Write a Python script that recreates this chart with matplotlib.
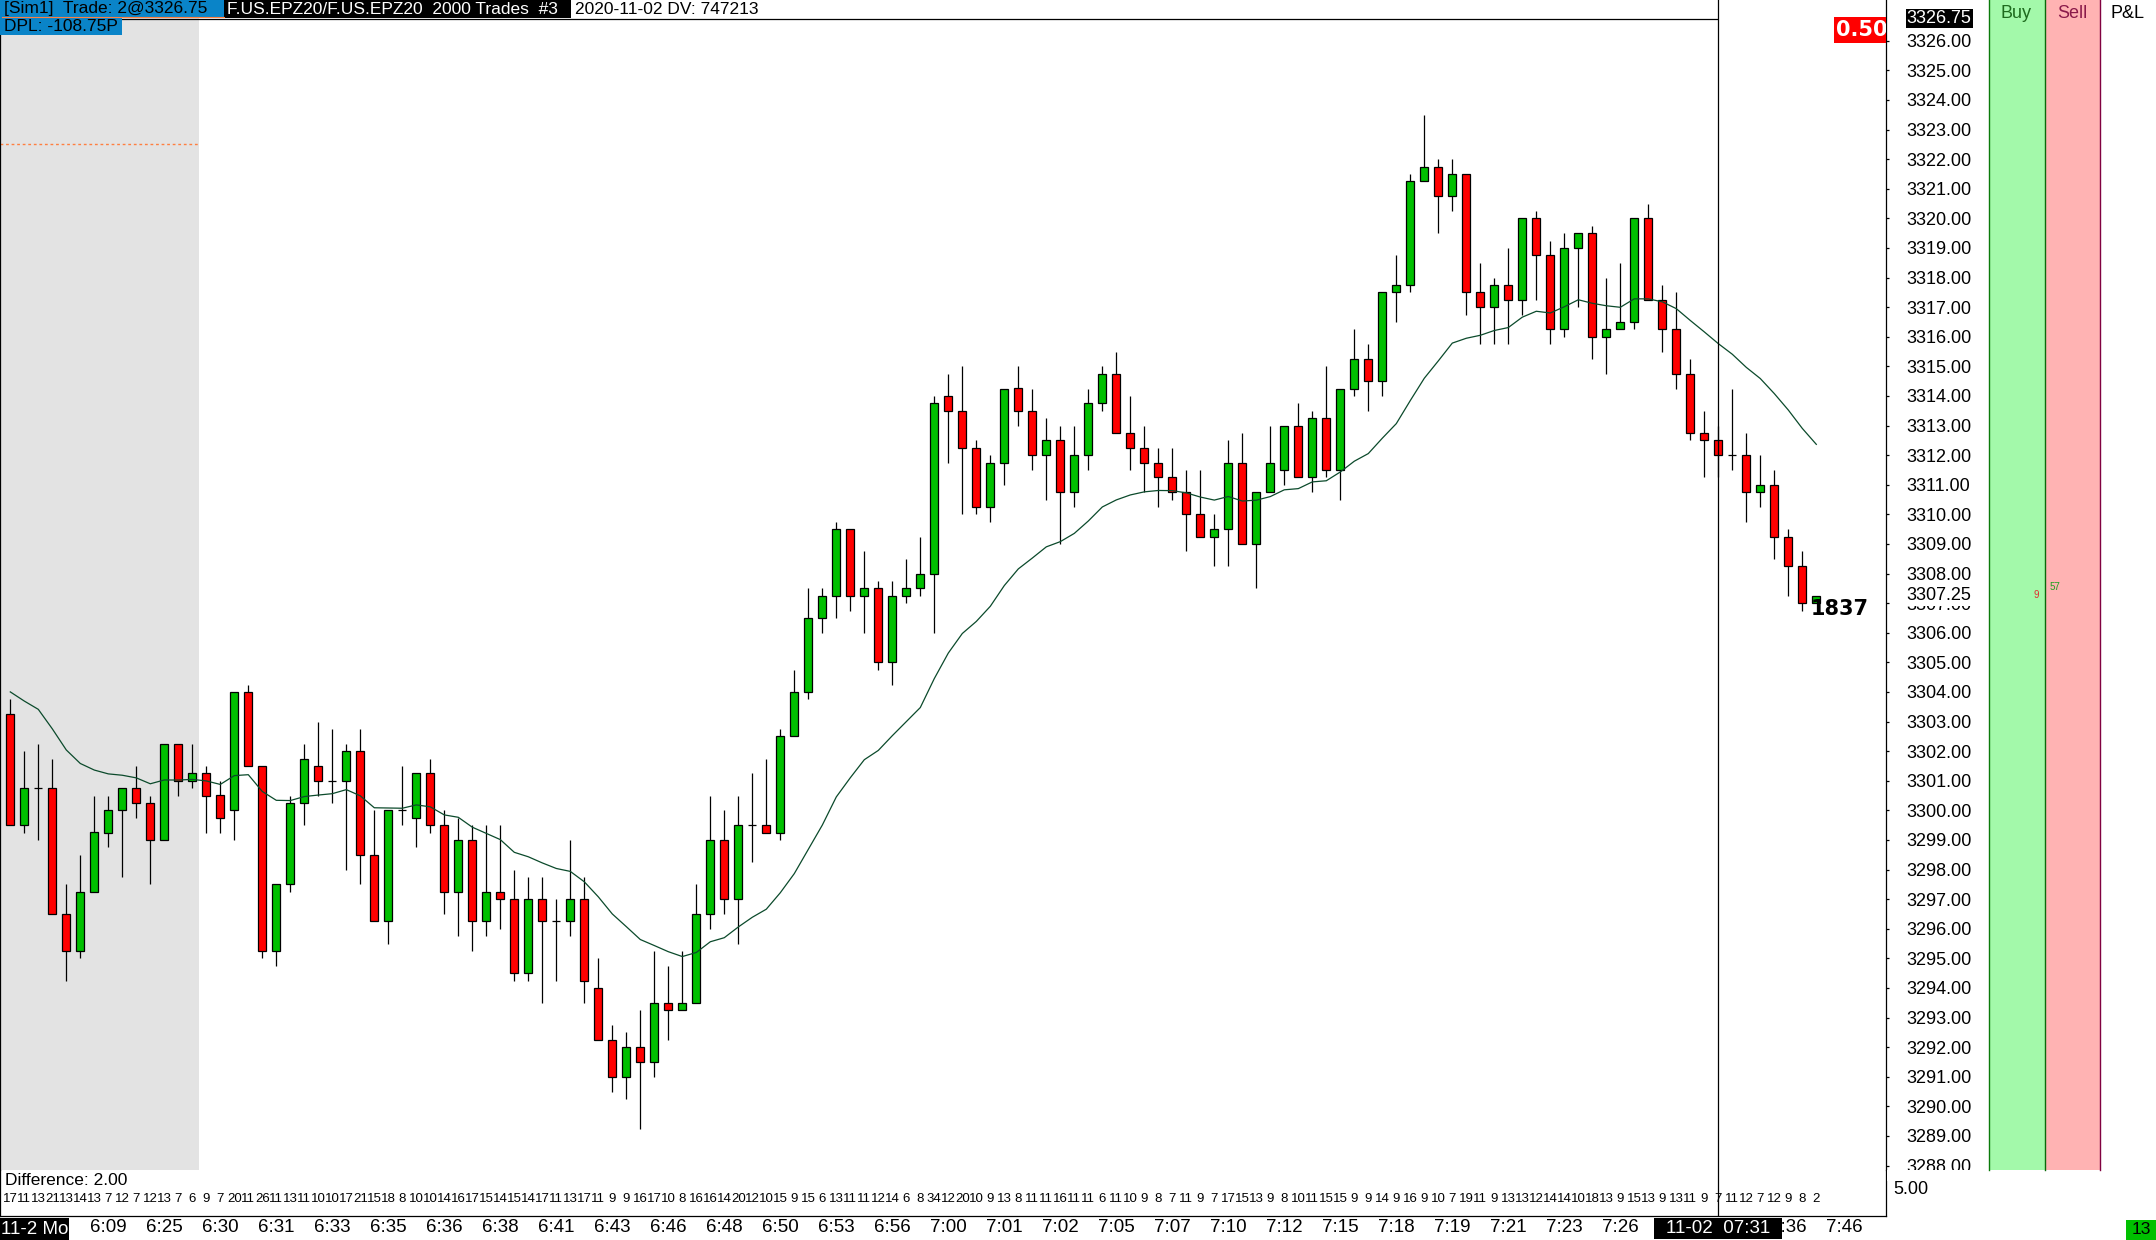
import matplotlib
matplotlib.use('Agg')
import matplotlib.pyplot as plt
from matplotlib.patches import Rectangle
from matplotlib.lines import Line2D
from matplotlib.transforms import blended_transform_factory
import numpy as np

W, H = 2156, 1240

# candle data, one entry per bar
opens = [3303.25, 3299.5, 3300.75, 3300.75, 3296.5, 3295.25, 3297.25, 3299.25, 3300.0, 3300.75,
         3300.25, 3299.0, 3302.25, 3301.0, 3301.25, 3300.5, 3300.0, 3304.0, 3301.5, 3295.25,
         3297.5, 3300.25, 3301.5, 3301.0, 3301.0, 3302.0, 3298.5, 3296.25, 3300.0, 3299.75,
         3301.25, 3299.5, 3297.25, 3299.0, 3296.25, 3297.25, 3297.0, 3294.5, 3297.0, 3296.25,
         3296.25, 3297.0, 3294.0, 3292.25, 3291.0, 3292.0, 3291.5, 3293.5, 3293.25, 3293.5,
         3296.5, 3299.0, 3297.0, 3299.5, 3299.5, 3299.25, 3302.5, 3304.0, 3306.5, 3307.25,
         3309.5, 3307.25, 3307.5, 3305.0, 3307.25, 3307.5, 3308.0, 3314.0, 3313.5, 3312.25,
         3310.25, 3311.75, 3314.25, 3313.5, 3312.0, 3312.5, 3310.75, 3312.0, 3313.75, 3314.75,
         3312.75, 3312.25, 3311.75, 3311.25, 3310.75, 3310.0, 3309.25, 3309.5, 3311.75, 3309.0,
         3310.75, 3311.5, 3313.0, 3311.25, 3313.25, 3311.5, 3314.25, 3315.25, 3314.5, 3317.5,
         3317.75, 3321.25, 3321.75, 3320.75, 3321.5, 3317.5, 3317.0, 3317.75, 3317.25, 3320.0,
         3318.75, 3316.25, 3319.0, 3319.5, 3316.0, 3316.25, 3316.5, 3320.0, 3317.25, 3316.25,
         3314.75, 3312.75, 3312.5, 3312.0, 3312.0, 3310.75, 3311.0, 3309.25, 3308.25, 3307.0]
highs = [3303.75, 3302.0, 3302.25, 3301.75, 3297.5, 3298.5, 3300.5, 3300.5, 3300.75, 3301.5,
         3300.5, 3302.25, 3302.25, 3302.25, 3301.5, 3301.0, 3304.0, 3304.25, 3301.5, 3297.5,
         3300.5, 3302.25, 3303.0, 3302.75, 3302.25, 3302.75, 3300.0, 3300.0, 3301.5, 3301.25,
         3301.75, 3300.0, 3299.75, 3299.5, 3299.5, 3299.5, 3298.0, 3297.75, 3297.75, 3297.0,
         3299.0, 3297.75, 3295.0, 3292.75, 3292.5, 3293.25, 3295.25, 3294.75, 3295.25, 3297.5,
         3300.5, 3300.0, 3300.5, 3301.25, 3301.75, 3302.75, 3304.75, 3307.5, 3307.5, 3309.75,
         3309.5, 3308.75, 3307.75, 3307.75, 3308.5, 3309.25, 3314.0, 3314.75, 3315.0, 3312.5,
         3312.0, 3314.25, 3315.0, 3314.25, 3313.25, 3313.0, 3313.0, 3314.25, 3315.0, 3315.5,
         3314.0, 3313.0, 3312.25, 3312.25, 3311.5, 3311.5, 3310.0, 3312.5, 3312.75, 3310.75,
         3313.0, 3313.0, 3313.75, 3313.5, 3315.0, 3314.25, 3316.25, 3315.75, 3317.5, 3318.75,
         3321.5, 3323.5, 3322.0, 3322.0, 3321.5, 3318.5, 3318.0, 3319.0, 3320.0, 3320.25,
         3319.25, 3319.5, 3319.5, 3319.75, 3318.0, 3318.5, 3320.0, 3320.5, 3317.75, 3317.5,
         3315.25, 3313.5, 3313.0, 3314.25, 3312.75, 3312.0, 3311.5, 3309.5, 3308.75, 3307.25]
lows = [3299.5, 3299.25, 3299.0, 3296.5, 3294.25, 3295.0, 3297.25, 3298.75, 3297.75, 3299.75,
        3297.5, 3299.0, 3300.5, 3300.75, 3299.25, 3299.25, 3299.0, 3301.5, 3295.0, 3294.75,
        3297.25, 3299.5, 3300.5, 3300.25, 3298.0, 3297.5, 3296.25, 3295.5, 3299.5, 3298.75,
        3299.25, 3296.5, 3295.75, 3295.25, 3295.75, 3296.0, 3294.25, 3294.25, 3293.5, 3294.25,
        3295.75, 3293.5, 3292.25, 3290.5, 3290.25, 3289.25, 3291.0, 3292.25, 3293.25, 3293.5,
        3296.0, 3296.5, 3295.5, 3298.25, 3299.25, 3299.0, 3302.5, 3303.75, 3306.0, 3306.5,
        3306.75, 3306.0, 3304.75, 3304.25, 3307.0, 3307.25, 3306.0, 3311.75, 3310.0, 3310.0,
        3309.75, 3311.0, 3313.0, 3311.5, 3310.5, 3309.0, 3310.25, 3311.5, 3313.5, 3312.75,
        3311.5, 3310.75, 3310.25, 3310.5, 3308.75, 3309.25, 3308.25, 3308.25, 3309.0, 3307.5,
        3310.75, 3311.0, 3311.25, 3310.75, 3311.25, 3310.5, 3314.0, 3313.5, 3314.0, 3316.5,
        3317.5, 3321.25, 3319.5, 3320.25, 3316.75, 3315.75, 3315.75, 3315.75, 3316.75, 3317.25,
        3315.75, 3316.0, 3317.0, 3315.25, 3314.75, 3316.25, 3316.25, 3317.25, 3315.5, 3314.25,
        3312.5, 3311.25, 3311.25, 3311.5, 3309.75, 3310.25, 3308.5, 3307.25, 3306.75, 3307.0]
closes = [3299.5, 3300.75, 3300.75, 3296.5, 3295.25, 3297.25, 3299.25, 3300.0, 3300.75, 3300.25,
          3299.0, 3302.25, 3301.0, 3301.25, 3300.5, 3299.75, 3304.0, 3301.5, 3295.25, 3297.5,
          3300.25, 3301.75, 3301.0, 3301.0, 3302.0, 3298.5, 3296.25, 3300.0, 3300.0, 3301.25,
          3299.5, 3297.25, 3299.0, 3296.25, 3297.25, 3297.0, 3294.5, 3297.0, 3296.25, 3296.25,
          3297.0, 3294.25, 3292.25, 3291.0, 3292.0, 3291.5, 3293.5, 3293.25, 3293.5, 3296.5,
          3299.0, 3297.0, 3299.5, 3299.5, 3299.25, 3302.5, 3304.0, 3306.5, 3307.25, 3309.5,
          3307.25, 3307.5, 3305.0, 3307.25, 3307.5, 3308.0, 3313.75, 3313.5, 3312.25, 3310.25,
          3311.75, 3314.25, 3313.5, 3312.0, 3312.5, 3310.75, 3312.0, 3313.75, 3314.75, 3312.75,
          3312.25, 3311.75, 3311.25, 3310.75, 3310.0, 3309.25, 3309.5, 3311.75, 3309.0, 3310.75,
          3311.75, 3313.0, 3311.25, 3313.25, 3311.5, 3314.25, 3315.25, 3314.5, 3317.5, 3317.75,
          3321.25, 3321.75, 3320.75, 3321.5, 3317.5, 3317.0, 3317.75, 3317.25, 3320.0, 3318.75,
          3316.25, 3319.0, 3319.5, 3316.0, 3316.25, 3316.5, 3320.0, 3317.25, 3316.25, 3314.75,
          3312.75, 3312.5, 3312.0, 3312.0, 3310.75, 3311.0, 3309.25, 3308.25, 3307.0, 3307.25]

# ticks per bar shown under the candles
counts = [17, 11, 13, 21, 13, 14, 13, 7, 12, 7, 12, 13, 7, 6, 9, 7,
          20, 11, 26, 11, 13, 11, 10, 10, 17, 21, 15, 18, 8, 10, 10, 14, 16, 17, 15, 14,
          15, 14, 17, 11, 13, 17, 11, 9, 9, 16, 17, 10, 8, 16, 16, 14, 20, 12, 10, 15,
          9, 15, 6, 13, 11, 11, 12, 14, 6, 8, 34, 12, 20, 10, 9, 13, 8, 11, 11, 16, 11,
          11, 6, 11, 10, 9, 8, 7, 11, 9, 7, 17, 15, 13, 9, 8, 10, 11, 15, 15, 9,
          9, 14, 9, 16, 9, 10, 7, 19, 11, 9, 13, 13, 12, 14, 14, 10, 18, 13, 9, 15,
          13, 9, 13, 11, 9, 7, 11, 12, 7, 12, 9, 8, 2]

time_labels = ['6:09', '6:25', '6:30', '6:31', '6:33', '6:35', '6:36', '6:38', '6:41', '6:43',
               '6:46', '6:48', '6:50', '6:53', '6:56', '7:00', '7:01', '7:02', '7:05', '7:07',
               '7:10', '7:12', '7:15', '7:18', '7:19', '7:21', '7:23', '7:26', '', '', '7:36', '7:46']

ma_start = 3304.0
price_ticks = np.arange(3288, 3327, 1.0)
last_price = 3307.25
cross_price = 3326.75
cross_bar = 122

plt.rcParams['font.family'] = ['Liberation Sans', 'DejaVu Sans']

fig = plt.figure(figsize=(W / 100, H / 100), dpi=100)
fig.patch.set_facecolor('white')

def fx(x):
    return x / W

def fy(y):
    return 1 - y / H

ax = fig.add_axes([0, fy(1170), fx(1886), 1170 / H])
ax2 = fig.add_axes([0, fy(1216), fx(1886), 46 / H])

x0, x1 = -10.3 / 14, (1886 - 10.3) / 14
ax.set_xlim(x0, x1)
ax2.set_xlim(x0, x1)
ax.set_ylim(3326 - (1170 - 40.7) / 29.6, 3326 + 40.7 / 29.6)
ax2.set_ylim(0, 1)

o, h, l, c = map(np.array, (opens, highs, lows, closes))
x = np.arange(len(o))
up, dn, flat = c > o, c < o, c == o
lo = np.minimum(o, c)
bh = np.abs(c - o)
bw = 0.57

# shaded session area and old level
ax.axvspan(x0, 13.5, color='#e3e3e3', lw=0, zorder=0)
ax.hlines(3322.5, x0, 13.5, colors='#ff7f40', linestyles=(0, (2, 2)), lw=1, zorder=1)

ax.vlines(x, l, h, color='black', lw=0.9, zorder=2)
ax.bar(x[up], bh[up], bw, bottom=lo[up], color='#00c000', edgecolor='black', lw=0.9, zorder=3)
ax.bar(x[dn], bh[dn], bw, bottom=lo[dn], color='#ff0000', edgecolor='black', lw=0.9, zorder=3)
ax.hlines(c[flat], x[flat] - bw / 2, x[flat] + bw / 2, color='black', lw=0.9, zorder=3)

# moving average
ma = [ma_start]
for v in c[1:]:
    ma.append(ma[-1] + 2 / 21 * (v - ma[-1]))
ax.plot(x, ma, color='#0b4a2b', lw=0.9, zorder=4)

# crosshair
ax.axvline(cross_bar, color='black', lw=0.9, zorder=5)
ax2.axvline(cross_bar, color='black', lw=0.9, zorder=5)
ax.hlines(cross_price, x0, cross_bar, colors='black', lw=0.9, zorder=5)

for a in (ax, ax2):
    a.set_facecolor('none')
    for s in a.spines.values():
        s.set_color('black')
        s.set_linewidth(0.9)
    a.spines['top'].set_visible(False)
ax.spines['bottom'].set_visible(False)

ax.yaxis.tick_right()
ax.set_yticks(price_ticks)
ax.set_yticklabels([f'{v:.2f}' for v in price_ticks])
ax.tick_params(axis='y', length=2.5, width=0.9, pad=12.5, labelsize=13, colors='black')
ax.tick_params(axis='x', bottom=False, labelbottom=False)

ax2.set_yticks([])
ax2.set_xticks(7 + 4 * np.arange(len(time_labels)))
ax2.set_xticklabels(time_labels)
ax2.tick_params(axis='x', length=0, pad=2, labelsize=13.5)

for i, n in enumerate(counts):
    ax2.text(i, 0.37, str(n), ha='center', va='center', fontsize=9.5, zorder=3)
ax2.text(5 / 1886, 0.78, 'Difference: 2.00', transform=ax2.transAxes,
         ha='left', va='center', fontsize=12.5)

# price markers on the scale
ax.annotate(f'{cross_price:.2f}', xy=(1, cross_price), xycoords=('axes fraction', 'data'),
            xytext=(15, 0), textcoords='offset points', ha='left', va='center', fontsize=13,
            color='white', bbox=dict(boxstyle='square,pad=0.05', fc='black', ec='none'),
            annotation_clip=False, zorder=8)
ax.annotate(f'{last_price:.2f}', xy=(1, last_price), xycoords=('axes fraction', 'data'),
            xytext=(15, 0), textcoords='offset points', ha='left', va='center', fontsize=13,
            color='black', bbox=dict(boxstyle='square,pad=0.08', fc='white', ec='none'),
            annotation_clip=False, zorder=8)

ax.add_patch(Rectangle((1834 / 1886, 1 - 43 / 1170), 52 / 1886, 26 / 1170,
                       transform=ax.transAxes, fc='#ff0000', ec='none', zorder=6))
ax.text(1836 / 1886, 1 - 30 / 1170, '0.50', transform=ax.transAxes, color='white',
        fontweight='bold', family='DejaVu Sans', fontsize=15, ha='left', va='center',
        clip_on=True, zorder=7)
ax.text(128.6, 3306.8, '1837', fontsize=15, fontweight='bold', family='DejaVu Sans',
        ha='left', va='center', zorder=7)

# crosshair time box on the time scale
tr = blended_transform_factory(ax2.transData, ax2.transAxes)
ax2.add_patch(Rectangle((cross_bar - 64 / 14, -23 / 46), 128 / 14, 21 / 46, transform=tr,
                        fc='black', ec='none', clip_on=False, zorder=9))
ax2.text(cross_bar, -12.5 / 46, '11-02  07:31', transform=tr, ha='center', va='center',
         fontsize=13.5, color='white', clip_on=False, zorder=10)

# header boxes
def box(x_a, y_a, x_b, y_b, color, **kw):
    fig.add_artist(Rectangle((fx(x_a), fy(y_b)), (x_b - x_a) / W, (y_b - y_a) / H,
                             transform=fig.transFigure, fc=color, ec='none', **kw))

box(0, 0, 224, 17.5, '#0a84c8', zorder=10)
box(224, 0, 571, 17.5, 'black', zorder=10)
box(0, 17.5, 122, 35, '#0a84c8', zorder=10)
fig.add_artist(Line2D([fx(2), fx(224)], [fy(17), fy(17)], color='#ff8040', lw=0.8, zorder=11))
fig.text(fx(4), fy(9), '[Sim1]  Trade: 2@3326.75', ha='left', va='center', fontsize=12.5, zorder=12)
fig.text(fx(227), fy(9), 'F.US.EPZ20/F.US.EPZ20  2000 Trades  #3', ha='left', va='center',
         fontsize=12.5, color='white', zorder=12)
fig.text(fx(575), fy(9), '2020-11-02 DV: 747213', ha='left', va='center', fontsize=12.5, zorder=12)
fig.text(fx(4), fy(26.5), 'DPL: -108.75P', ha='left', va='center', fontsize=12.5, zorder=12)

# buy / sell / p&l columns
box(1989, 0, 2045, 1170, '#a3f9aa', zorder=2)
box(2045, 0, 2100, 1170, '#ffb3b3', zorder=2)
for xx, col in ((1989, '#0a7a0a'), (2045, '#0a6a0a'), (2100, '#800040')):
    fig.add_artist(Line2D([fx(xx), fx(xx)], [fy(0), fy(1170)], color=col, lw=1, zorder=3))
fig.text(fx(2016), fy(13), 'Buy', ha='center', va='center', fontsize=13, color='#1e6b1e')
fig.text(fx(2072), fy(13), 'Sell', ha='center', va='center', fontsize=13, color='#8a1a4a')
fig.text(fx(2127), fy(13), 'P&L', ha='center', va='center', fontsize=13, color='black')
fig.text(fx(2036), fy(595), '9', ha='center', va='center', fontsize=7, color='#e03030')
fig.text(fx(2055), fy(587), '57', ha='center', va='center', fontsize=7, color='#20a020')

# cut off the lowest scale label, lower pane remainder
box(1887, 1170, 1986, 1181, 'white', zorder=9)
fig.text(fx(1893), fy(1190), '5.00', ha='left', va='center', fontsize=13)

box(0, 1218, 69, 1240, 'black', zorder=10)
fig.text(fx(34.5), fy(1229), '11-2 Mo', ha='center', va='center', fontsize=13.5,
         color='white', zorder=11)
box(2126, 1220, 2156, 1240, '#00c000', zorder=10)
fig.text(fx(2141), fy(1230), '13', ha='center', va='center', fontsize=12.5, zorder=11)

fig.savefig('out.png', dpi=100)
